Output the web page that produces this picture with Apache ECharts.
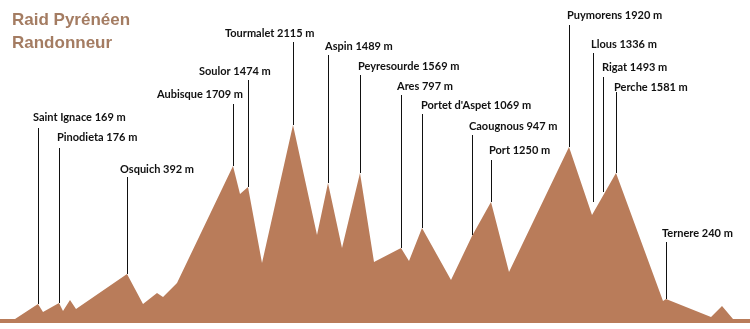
<!DOCTYPE html>
<html>
<head>
<meta charset="utf-8">
<script src="https://cdn.jsdelivr.net/npm/echarts@6/dist/echarts.min.js"></script>
<style>html,body{margin:0;padding:0;background:#fff;}#c{width:750px;height:329px;}</style>
</head>
<body>
<div id="c"></div>
<script>
// Profile: distance (arbitrary units along route) and elevation (m, schematic)
const distance  = [0, 15, 38, 43, 59, 63, 70, 76, 127, 143, 157, 163, 177, 233, 240, 248, 262, 293, 317, 328, 342, 360, 374, 401, 409, 422, 451, 472, 491, 509, 569, 592, 616, 663, 666, 711, 722, 733, 750];
const elevation = [43, 43, 203, 118, 214, 128, 246, 150, 524, 203, 321, 278, 428, 1680, 1380, 1455, 642, 2119, 942, 1498, 803, 1605, 653, 803, 663, 1017, 460, 930, 1295, 546, 1883, 1156, 1605, 235, 257, 64, 182, 43, 43];

// Passes (annotations)
const passNames  = ['Saint Ignace', 'Pinodieta', 'Osquich', 'Aubisque', 'Soulor', 'Tourmalet', 'Aspin', 'Peyresourde', 'Ares', "Portet d'Aspet", 'Caougnous', 'Port', 'Puymorens', 'Llous', 'Rigat', 'Perche', 'Ternere'];
const passAlt    = [169, 176, 392, 1709, 1474, 2115, 1489, 1569, 797, 1069, 947, 1250, 1920, 1336, 1493, 1581, 240];
const passX      = [38, 59, 127, 233, 248, 293, 328, 360, 401, 422, 472, 491, 569, 593, 603, 616, 666];
const lineTop    = [2087, 1873, 1562, 2343, 2600, 3007, 2868, 2654, 2440, 2236, 2012, 1744, 3189, 2889, 2632, 2472, 867];
const lineBottom = [203, 214, 524, 1680, 1455, 2119, 1498, 1605, 803, 1017, 940, 1295, 1883, 1295, 1402, 1605, 257];
const labelX     = [33, 57, 120, 157, 199, 225, 325, 358, 397, 421, 469, 489, 567, 591, 602, 614, 662];
const labelY     = [2204, 1980, 1648, 2450, 2696, 3103, 2964, 2750, 2536, 2333, 2108, 1851, 3296, 2985, 2729, 2515, 963];

const profile = distance.map((d, i) => [d, elevation[i]]);
const passes = passNames.map((n, i) => [passX[i], lineTop[i], lineBottom[i], labelX[i], labelY[i], i]);

const chart = echarts.init(document.getElementById('c'));
chart.setOption({
  animation: false,
  title: {
    text: 'Raid Pyrénéen\nRandonneur',
    left: 7, top: 4,
    textStyle: { fontFamily: 'Liberation Sans', fontWeight: 'bold', fontSize: 17, lineHeight: 23, color: '#a47c62' }
  },
  grid: { left: 0, right: 0, top: 0, bottom: 6 },
  xAxis: { type: 'value', min: 0, max: 750, show: false },
  yAxis: { type: 'value', min: 0, max: 3456, show: false },
  series: [
    {
      type: 'line',
      data: profile,
      symbol: 'none',
      smooth: false,
      lineStyle: { width: 0, color: '#b97c5a' },
      areaStyle: { color: '#b97c5a', opacity: 1 },
      z: 1
    },
    {
      type: 'custom',
      data: passes,
      z: 5,
      renderItem: function (params, api) {
        const i = api.value(5);
        const top = api.coord([api.value(0), api.value(1)]);
        const bot = api.coord([api.value(0), api.value(2)]);
        const lab = api.coord([api.value(3), api.value(4)]);
        const x = Math.round(top[0]) + 0.5;
        return {
          type: 'group',
          children: [
            { type: 'line', shape: { x1: x, y1: Math.round(top[1]), x2: x, y2: Math.round(bot[1]) },
              style: { stroke: '#111', lineWidth: 1 } },
            { type: 'text', x: lab[0], y: lab[1],
              style: { text: passNames[i] + ' ' + passAlt[i] + ' m', fill: '#111',
                font: 'bold 11px Lato', textAlign: 'left', textVerticalAlign: 'middle' } }
          ]
        };
      }
    }
  ]
});
</script>
</body>
</html>
